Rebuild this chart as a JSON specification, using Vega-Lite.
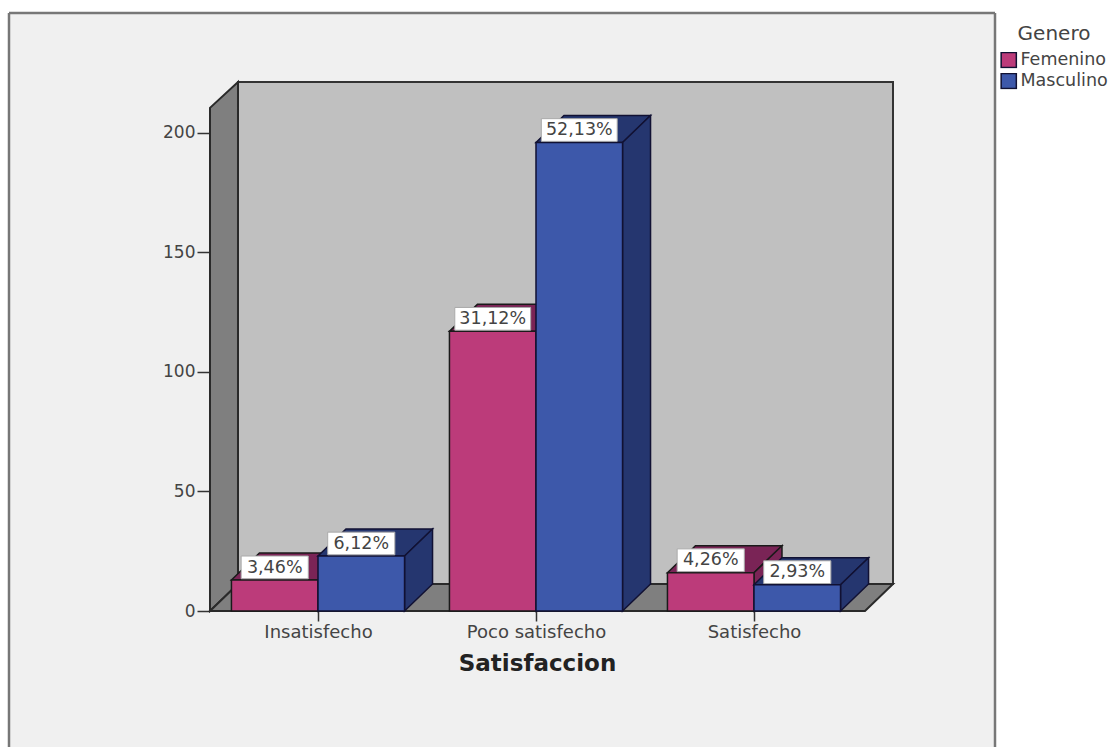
{
  "$schema": "https://vega.github.io/schema/vega-lite/v6.json",
  "width": 986,
  "height": 734,
  "padding": {"left": 9, "top": 13, "right": 121, "bottom": 0},
  "autosize": "none",
  "background": "#ffffff",
  "view": {"fill": "#f0f0f0", "stroke": null},
  "config": {"font": "DejaVu Sans"},
  "datasets": {
    "barras": [
      {"satisfaccion": "Insatisfecho", "genero": "Femenino", "frecuencia": 13, "etiqueta": "3,46%"},
      {"satisfaccion": "Insatisfecho", "genero": "Masculino", "frecuencia": 23, "etiqueta": "6,12%"},
      {"satisfaccion": "Poco satisfecho", "genero": "Femenino", "frecuencia": 117, "etiqueta": "31,12%"},
      {"satisfaccion": "Poco satisfecho", "genero": "Masculino", "frecuencia": 196, "etiqueta": "52,13%"},
      {"satisfaccion": "Satisfecho", "genero": "Femenino", "frecuencia": 16, "etiqueta": "4,26%"},
      {"satisfaccion": "Satisfecho", "genero": "Masculino", "frecuencia": 11, "etiqueta": "2,93%"}
    ]
  },
  "data": {"values": [{"t": 0}, {"t": 1}]},
  "encoding": {
    "x": {
      "field": "x",
      "type": "quantitative",
      "scale": {"domain": [-0.4174, 4.1055], "nice": false, "zero": false},
      "axis": {
        "title": "Satisfaccion",
        "titleFontSize": 23,
        "titleFontWeight": "bold",
        "titleColor": "#222222",
        "titlePadding": 11,
        "titleX": 528,
        "titleAlign": "center",
        "offset": -136,
        "domain": false,
        "grid": false,
        "values": [1, 2, 3],
        "labelExpr": "datum.value === 1 ? 'Insatisfecho' : datum.value === 2 ? 'Poco satisfecho' : 'Satisfecho'",
        "labelFontSize": 18,
        "labelColor": "#444444",
        "labelPadding": 2,
        "tickSize": 10,
        "tickColor": "#333333",
        "tickWidth": 1.5
      }
    },
    "y": {
      "field": "y",
      "type": "quantitative",
      "scale": {"domain": [-56.9, 250.2], "nice": false, "zero": false},
      "axis": {
        "title": null,
        "offset": -200,
        "domain": false,
        "grid": false,
        "values": [0, 50, 100, 150, 200],
        "labelFontSize": 17,
        "labelColor": "#444444",
        "labelPadding": 2,
        "tickSize": 12,
        "tickColor": "#333333",
        "tickWidth": 1.5
      }
    }
  },
  "layer": [
    {
      "description": "Outer frame: left, right and top edges of the panel",
      "transform": [
        {"filter": "datum.t === 0"},
        {"calculate": "[-0.4174, 4.1055]", "as": "x"},
        {"flatten": ["x"]},
        {"calculate": "-56.9", "as": "y"},
        {"calculate": "250.2", "as": "y2"}
      ],
      "mark": {"type": "rule", "stroke": "#777777", "strokeWidth": 2.5, "clip": false},
      "encoding": {"y2": {"field": "y2"}}
    },
    {
      "transform": [
        {"filter": "datum.t === 0"},
        {"calculate": "-0.4174", "as": "x"},
        {"calculate": "4.1055", "as": "x2"},
        {"calculate": "250.2", "as": "y"}
      ],
      "mark": {"type": "rule", "stroke": "#777777", "strokeWidth": 2.5, "clip": false},
      "encoding": {"x2": {"field": "x2"}}
    },
    {
      "description": "Back wall of the chart box",
      "transform": [
        {"filter": "datum.t === 0"},
        {"calculate": "0.633", "as": "x"},
        {"calculate": "3.6376", "as": "x2"},
        {"calculate": "11.3", "as": "y"},
        {"calculate": "221.3", "as": "y2"}
      ],
      "mark": {"type": "rect", "fill": "#c0c0c0", "stroke": "#333333", "strokeWidth": 2},
      "encoding": {
        "x2": {"field": "x2"},
        "y2": {"field": "y2"}
      }
    },
    {
      "description": "Left wall, sheared to give the box its depth",
      "transform": [
        {"calculate": "0.5046 + 0.1284 * datum.t", "as": "x"},
        {"calculate": "11.3 * datum.t", "as": "y"},
        {"calculate": "210.5 + 10.8 * datum.t", "as": "y2"}
      ],
      "mark": {"type": "area", "orient": "vertical", "fill": "#7f7f7f", "stroke": "#2a2a2a", "strokeWidth": 2},
      "encoding": {"y2": {"field": "y2"}}
    },
    {
      "description": "Floor of the chart box",
      "transform": [
        {"calculate": "[0, 1, 2, 3]", "as": "paso"},
        {"flatten": ["paso"]},
        {"filter": "datum.t === 0"},
        {"calculate": "[0.5046, 0.633, 3.5092, 3.6376][datum.paso]", "as": "x"},
        {"calculate": "[0, 0, 0, 11.3][datum.paso]", "as": "y"},
        {"calculate": "[0, 11.3, 11.3, 11.3][datum.paso]", "as": "y2"}
      ],
      "mark": {"type": "area", "orient": "vertical", "fill": "#7f7f7f", "stroke": "#2a2a2a", "strokeWidth": 2},
      "encoding": {"y2": {"field": "y2"}}
    },
    {
      "description": "Bars with their top and side faces, drawn back to front",
      "data": {"name": "barras"},
      "transform": [
        {"calculate": "indexof(['Insatisfecho', 'Poco satisfecho', 'Satisfecho'], datum.satisfaccion) + 1", "as": "orden"},
        {"calculate": "datum.genero === 'Femenino' ? datum.orden - 0.397 : datum.orden", "as": "xa"},
        {"calculate": "datum.xa + 0.397", "as": "xb"},
        {"calculate": "[0, 1, 2, 3]", "as": "paso"}
      ],
      "layer": [
        {
          "transform": [
            {"filter": "datum.genero === 'Femenino'"},
            {"flatten": ["paso"]},
            {"calculate": "[datum.xa, datum.xa + 0.1284, datum.xb, datum.xb + 0.1284][datum.paso]", "as": "x"},
            {"calculate": "datum.frecuencia + [0, 0, 0, 11.3][datum.paso]", "as": "y"},
            {"calculate": "datum.frecuencia + [0, 11.3, 11.3, 11.3][datum.paso]", "as": "y2"}
          ],
          "mark": {"type": "area", "orient": "vertical", "fill": "#7a2456", "stroke": "#1a1a1a", "strokeWidth": 1.5},
          "encoding": {"y2": {"field": "y2"}, "detail": {"field": "satisfaccion"}}
        },
        {
          "transform": [
            {"filter": "datum.genero === 'Femenino'"},
            {"flatten": ["paso"]},
            {"filter": "datum.paso < 2"},
            {"calculate": "datum.xb + 0.1284 * datum.paso", "as": "x"},
            {"calculate": "11.3 * datum.paso", "as": "y"},
            {"calculate": "datum.frecuencia + 11.3 * datum.paso", "as": "y2"}
          ],
          "mark": {"type": "area", "orient": "vertical", "fill": "#7a2456", "stroke": "#1a1a1a", "strokeWidth": 1.5},
          "encoding": {"y2": {"field": "y2"}, "detail": {"field": "satisfaccion"}}
        },
        {
          "transform": [
            {"filter": "datum.genero === 'Femenino'"},
            {"calculate": "datum.xa", "as": "x"},
            {"calculate": "datum.xb", "as": "x2"},
            {"calculate": "0", "as": "y"},
            {"calculate": "datum.frecuencia", "as": "y2"}
          ],
          "mark": {"type": "rect", "stroke": "#1a1a1a", "strokeWidth": 1.5},
          "encoding": {
            "x2": {"field": "x2"},
            "y2": {"field": "y2"},
            "color": {
              "field": "genero",
              "type": "nominal",
              "scale": {"domain": ["Femenino", "Masculino"], "range": ["#bc3b7a", "#3d58aa"]},
              "legend": {
                "title": "Genero",
                "orient": "none",
                "legendX": 991,
                "legendY": 11,
                "titleFontSize": 20,
                "titleFontWeight": "normal",
                "titleColor": "#444444",
                "titleAnchor": "middle",
                "titlePadding": 8,
                "labelFontSize": 17.5,
                "labelColor": "#444444",
                "labelOffset": 3,
                "symbolType": "square",
                "symbolSize": 230,
                "symbolStrokeColor": "#222222",
                "symbolStrokeWidth": 1.5,
                "clipHeight": 16,
                "rowPadding": 3,
                "padding": 0
              }
            }
          }
        },
        {
          "transform": [
            {"filter": "datum.genero === 'Masculino'"},
            {"flatten": ["paso"]},
            {"calculate": "[datum.xa, datum.xa + 0.1284, datum.xb, datum.xb + 0.1284][datum.paso]", "as": "x"},
            {"calculate": "datum.frecuencia + [0, 0, 0, 11.3][datum.paso]", "as": "y"},
            {"calculate": "datum.frecuencia + [0, 11.3, 11.3, 11.3][datum.paso]", "as": "y2"}
          ],
          "mark": {"type": "area", "orient": "vertical", "fill": "#25366f", "stroke": "#111133", "strokeWidth": 1.5},
          "encoding": {"y2": {"field": "y2"}, "detail": {"field": "satisfaccion"}}
        },
        {
          "transform": [
            {"filter": "datum.genero === 'Masculino'"},
            {"flatten": ["paso"]},
            {"filter": "datum.paso < 2"},
            {"calculate": "datum.xb + 0.1284 * datum.paso", "as": "x"},
            {"calculate": "11.3 * datum.paso", "as": "y"},
            {"calculate": "datum.frecuencia + 11.3 * datum.paso", "as": "y2"}
          ],
          "mark": {"type": "area", "orient": "vertical", "fill": "#25366f", "stroke": "#111133", "strokeWidth": 1.5},
          "encoding": {"y2": {"field": "y2"}, "detail": {"field": "satisfaccion"}}
        },
        {
          "transform": [
            {"filter": "datum.genero === 'Masculino'"},
            {"calculate": "datum.xa", "as": "x"},
            {"calculate": "datum.xb", "as": "x2"},
            {"calculate": "0", "as": "y"},
            {"calculate": "datum.frecuencia", "as": "y2"}
          ],
          "mark": {"type": "rect", "stroke": "#111133", "strokeWidth": 1.5},
          "encoding": {
            "x2": {"field": "x2"},
            "y2": {"field": "y2"},
            "color": {"field": "genero", "type": "nominal"}
          }
        },
        {
          "description": "White boxes behind the percentage labels",
          "transform": [
            {"calculate": "(datum.xa + datum.xb) / 2", "as": "centro"},
            {"calculate": "length(datum.etiqueta) > 5 ? 0.174 : 0.154", "as": "mitad"},
            {"calculate": "datum.centro - datum.mitad", "as": "x"},
            {"calculate": "datum.centro + datum.mitad", "as": "x2"},
            {"calculate": "datum.frecuencia + 0.5", "as": "y"},
            {"calculate": "datum.frecuencia + 10", "as": "y2"}
          ],
          "mark": {"type": "rect", "fill": "#ffffff", "stroke": "#aaaaaa", "strokeWidth": 1},
          "encoding": {"x2": {"field": "x2"}, "y2": {"field": "y2"}}
        },
        {
          "transform": [
            {"calculate": "(datum.xa + datum.xb) / 2", "as": "x"},
            {"calculate": "datum.frecuencia + 5.2", "as": "y"}
          ],
          "mark": {"type": "text", "fontSize": 17.5, "fill": "#444444", "baseline": "middle", "align": "center"},
          "encoding": {"text": {"field": "etiqueta"}}
        }
      ]
    }
  ]
}
